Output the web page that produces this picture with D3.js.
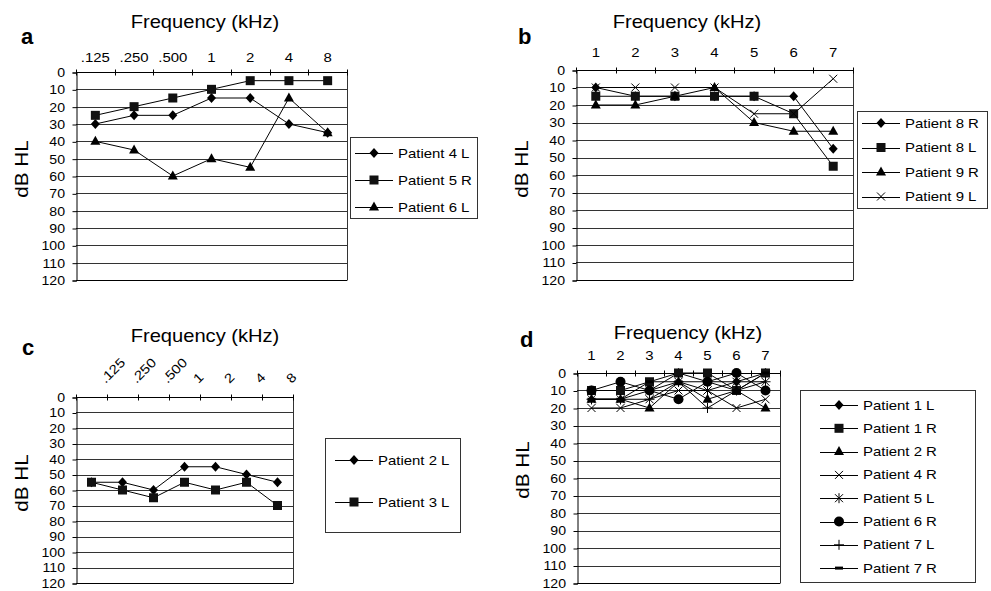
<!DOCTYPE html>
<html>
<head>
<meta charset="utf-8">
<script src="https://cdn.jsdelivr.net/npm/d3@7"></script>
<style>
  body { margin: 0; background: #fff; }
  svg text { font-family: "Liberation Sans", Arial, Helvetica, sans-serif; fill: #000; }
</style>
</head>
<body>
<svg id="chart" width="991" height="591"></svg>
<script>
// tick labels
const dbTicks = [0, 10, 20, 30, 40, 50, 60, 70, 80, 90, 100, 110, 120];
const octaveFreqs = [".125", ".250", ".500", "1", "2", "4", "8"];
const kiloFreqs = ["1", "2", "3", "4", "5", "6", "7"];

// panel a
const patient4L = [30, 25, 25, 15, 15, 30, 35];
const patient5R = [25, 20, 15, 10, 5, 5, 5];
const patient6L = [40, 45, 60, 50, 55, 15, 35];

// panel b
const patient8R = [10, 15, 15, 15, 15, 15, 45];
const patient8L = [15, 15, 15, 15, 15, 25, 55];
const patient9R = [20, 20, 15, 10, 30, 35, 35];
const patient9L = [10, 10, 10, 10, 25, 25, 5];

// panel c
const patient2L = [55, 55, 60, 45, 45, 50, 55];
const patient3L = [55, 60, 65, 55, 60, 55, 70];

// panel d
const patient1L = [10, 10, 10, 0, 5, 5, 0];
const patient1R = [10, 10, 5, 0, 0, 10, 0];
const patient2R = [15, 15, 20, 5, 15, 10, 20];
const patient4R = [20, 20, 15, 10, 10, 20, 15];
const patient5L = [15, 15, 10, 5, 10, 5, 5];
const patient6R = [10, 5, 10, 15, 5, 0, 10];
const patient7L = [15, 15, 15, 5, 20, 10, 5];
const patient7R = [15, 15, 5, 5, 5, 10, 0];

const panels = [
  {
    letter: "a", categories: octaveFreqs,
    left: 76, right: 347, top: 72, bottom: 280,
    titleX: 205, titleY: 28, letterX: 21, letterY: 44, labelY: 62, yLabelY: 169,
    legend: { x: 350, y: 137, w: 127, h: 81, firstY: 153, step: 27, lineX: 355 },
    series: [
      { name: "Patient 4 L", symbol: "diamond", values: patient4L },
      { name: "Patient 5 R", symbol: "square", values: patient5R },
      { name: "Patient 6 L", symbol: "triangle", values: patient6L }
    ]
  },
  {
    letter: "b", categories: kiloFreqs,
    left: 576, right: 853, top: 70, bottom: 280,
    titleX: 687, titleY: 28, letterX: 518, letterY: 44, labelY: 57, yLabelY: 169,
    legend: { x: 857, y: 111, w: 130, h: 97, firstY: 123, step: 24.5, lineX: 862 },
    series: [
      { name: "Patient 8 R", symbol: "diamond", values: patient8R },
      { name: "Patient 8 L", symbol: "square", values: patient8L },
      { name: "Patient 9 R", symbol: "triangle", values: patient9R },
      { name: "Patient 9 L", symbol: "cross", values: patient9L }
    ]
  },
  {
    letter: "c", categories: octaveFreqs, rotated: true,
    left: 76, right: 293, top: 397, bottom: 583,
    titleX: 205, titleY: 342, letterX: 22, letterY: 355, labelY: 384, yLabelY: 483,
    legend: { x: 325, y: 438, w: 135, h: 94, firstY: 460, step: 42, lineX: 335 },
    series: [
      { name: "Patient 2 L", symbol: "diamond", values: patient2L },
      { name: "Patient 3 L", symbol: "square", values: patient3L }
    ]
  },
  {
    letter: "d", categories: kiloFreqs,
    left: 577, right: 780, top: 373, bottom: 583,
    titleX: 688, titleY: 339, letterX: 520, letterY: 347, labelY: 360, yLabelY: 470,
    legend: { x: 800, y: 390, w: 175, h: 192, firstY: 405, step: 23.3, lineX: 820 },
    series: [
      { name: "Patient 1 L", symbol: "diamond", values: patient1L },
      { name: "Patient 1 R", symbol: "square", values: patient1R },
      { name: "Patient 2 R", symbol: "triangle", values: patient2R },
      { name: "Patient 4 R", symbol: "cross", values: patient4R },
      { name: "Patient 5 L", symbol: "star", values: patient5L },
      { name: "Patient 6 R", symbol: "circle", values: patient6R },
      { name: "Patient 7 L", symbol: "plus", values: patient7L },
      { name: "Patient 7 R", symbol: "dash", values: patient7R }
    ]
  }
];

const STRETCH = 1.15;
const svg = d3.select("#chart");

panels.forEach(drawPanel);

function label(parent, x, y, str, size, anchor, extra = "") {
  return parent
    .append("text")
    .attr("transform", `translate(${x},${y}) ${extra} scale(${STRETCH},1)`)
    .attr("text-anchor", anchor)
    .attr("font-size", size)
    .text(str);
}

function crisp(v) {
  return Math.round(v) + 0.5;
}

function drawMarker(parent, symbol, cx, cy) {
  const m = parent.append("g").attr("transform", `translate(${cx},${cy})`);
  switch (symbol) {
    case "diamond":
      m.append("path").attr("d", "M0,-5L4.5,0L0,5L-4.5,0Z").attr("fill", "#000");
      break;
    case "square":
      m.append("rect").attr("x", -4.5).attr("y", -4.5).attr("width", 9).attr("height", 9).attr("fill", "#111");
      break;
    case "triangle":
      m.append("path").attr("d", "M0,-5.5L5,3.5L-5,3.5Z").attr("fill", "#000");
      break;
    case "cross":
      m.append("path").attr("d", "M-4,-4L4,4M4,-4L-4,4").attr("stroke", "#000").attr("stroke-width", 1);
      break;
    case "star":
      m.append("path").attr("d", "M-4,-4L4,4M4,-4L-4,4M0,-5L0,5").attr("stroke", "#000").attr("stroke-width", 1);
      break;
    case "circle":
      m.append("circle").attr("r", 5).attr("fill", "#000");
      break;
    case "plus":
      m.append("path").attr("d", "M0,-5L0,5M-5,0L5,0").attr("stroke", "#000").attr("stroke-width", 1);
      break;
    case "dash":
      m.append("rect").attr("x", -4).attr("y", -1.5).attr("width", 8).attr("height", 3).attr("fill", "#000");
      break;
  }
}

function drawPanel(p) {
  const g = svg.append("g").attr("class", `panel-${p.letter}`);
  const x = d3.scaleBand().domain(p.categories).range([p.left, p.right]);
  const y = d3.scaleLinear().domain([0, 120]).range([p.top, p.bottom]);
  const mid = (c) => x(c) + x.bandwidth() / 2;

  // horizontal grid
  g.append("g")
    .selectAll("line")
    .data(dbTicks.slice(1))
    .join("line")
    .attr("x1", p.left)
    .attr("x2", p.right)
    .attr("y1", (d) => crisp(y(d)))
    .attr("y2", (d) => crisp(y(d)))
    .attr("stroke", (d) => (d === 120 ? "#000" : "#333"))
    .attr("stroke-width", 1);

  // right border
  g.append("line")
    .attr("x1", crisp(p.right)).attr("x2", crisp(p.right))
    .attr("y1", crisp(p.top)).attr("y2", crisp(p.bottom))
    .attr("stroke", "#333");

  // y axis
  const yAxis = g.append("g")
    .attr("transform", `translate(${crisp(p.left)},0.5)`)
    .call(d3.axisLeft(y).tickValues(dbTicks).tickSize(4).tickPadding(6))
    .attr("font-family", null)
    .attr("font-size", null);
  yAxis.select(".domain").attr("stroke", "#000");
  yAxis.selectAll(".tick line").attr("stroke", "#000");
  yAxis.selectAll(".tick text")
    .attr("font-size", 12.3)
    .attr("transform", `scale(${STRETCH},1)`);

  // top axis with boundary ticks
  const y0 = crisp(y(0));
  g.append("line").attr("x1", p.left).attr("x2", p.right).attr("y1", y0).attr("y2", y0).attr("stroke", "#000");
  const bounds = p.categories.map((c) => x(c)).concat([p.right]);
  g.append("g")
    .selectAll("line")
    .data(bounds)
    .join("line")
    .attr("x1", (d) => crisp(d))
    .attr("x2", (d) => crisp(d))
    .attr("y1", y0 - 3)
    .attr("y2", y0 + 3)
    .attr("stroke", "#000");

  // category labels
  p.categories.forEach((c) => {
    if (p.rotated) {
      label(g, x(c) + x.bandwidth() - 1.5, p.labelY, c, 13, "start", "rotate(-45)");
    } else {
      label(g, mid(c), p.labelY, c, 13, "middle");
    }
  });

  // series
  const line = d3.line().x((d) => d[0]).y((d) => d[1]);
  p.series.forEach((s) => {
    const pts = s.values.map((v, i) => [mid(p.categories[i]), y(v)]);
    g.append("path")
      .attr("d", line(pts))
      .attr("fill", "none")
      .attr("stroke", "#000")
      .attr("stroke-width", 1);
  });
  p.series.forEach((s) => {
    s.values.forEach((v, i) => drawMarker(g, s.symbol, mid(p.categories[i]), y(v)));
  });

  // legend
  const L = p.legend;
  g.append("rect")
    .attr("x", L.x + 0.5).attr("y", L.y + 0.5)
    .attr("width", L.w).attr("height", L.h)
    .attr("fill", "#fff").attr("stroke", "#333");
  p.series.forEach((s, i) => {
    const ly = L.firstY + i * L.step;
    g.append("line")
      .attr("x1", L.lineX).attr("x2", L.lineX + 38)
      .attr("y1", crisp(ly)).attr("y2", crisp(ly))
      .attr("stroke", "#000");
    drawMarker(g, s.symbol, L.lineX + 19, ly);
    label(g, L.lineX + 43, ly + 4.5, s.name, 13, "start");
  });

  // titles
  label(g, p.titleX, p.titleY, "Frequency (kHz)", 17.5, "middle");
  g.append("text")
    .attr("transform", `translate(${p.left - 48},${p.yLabelY}) rotate(-90) scale(${STRETCH},1)`)
    .attr("text-anchor", "middle")
    .attr("font-size", 18)
    .text("dB HL");
  g.append("text")
    .attr("x", p.letterX).attr("y", p.letterY)
    .attr("font-size", 22).attr("font-weight", "bold")
    .text(p.letter);
}
</script>
</body>
</html>
